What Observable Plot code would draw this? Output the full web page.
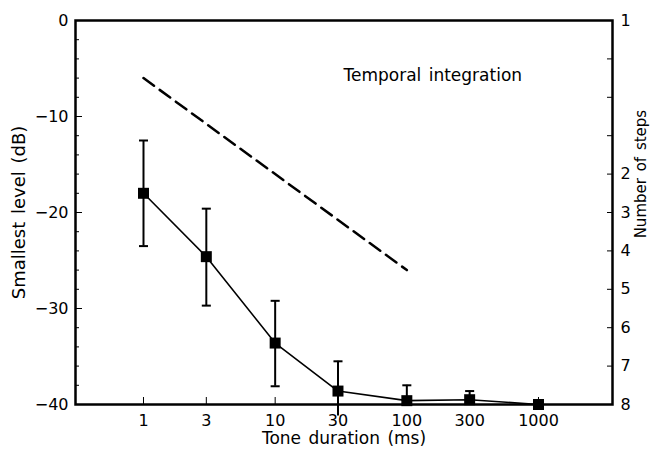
<!DOCTYPE html>
<html><head><meta charset="utf-8">
<script src="https://cdn.jsdelivr.net/npm/d3@7"></script>
<script src="https://cdn.jsdelivr.net/npm/@observablehq/plot@0.6"></script>
<style>body{margin:0;background:#fff} #chart svg{background:#fff} #chart svg text{word-spacing:2px}</style>
</head><body><div id="chart"></div>
<script>
// Data
const durations = [1, 3, 10, 30, 100, 300, 1000];
const levels    = [-18, -24.6, -33.6, -38.6, -39.6, -39.5, -40];
const errHigh   = [-12.5, -19.6, -29.2, -35.5, -38.0, -38.6, null];
const errLow    = [-23.5, -29.7, -38.1, -41.2, -40, -40, null];

const integrationX = [1, 100];
const integrationY = [-6, -26];
const integrationLabel = "Temporal integration";
const labelX = 33, labelY = -5.7;

const xTicks = [1, 3, 10, 30, 100, 300, 1000];
const xTickLabels = ["1", "3", "10", "30", "100", "300", "1000"];
const yMajorTicks = [0, -10, -20, -30, -40];
const yMinorTicks = [-2, -4, -6, -8, -12, -14, -16, -18, -22, -24, -26, -28, -32, -34, -36, -38];
const stepTicks  = [0, -4, -8, -12, -16, -20, -24, -28, -32, -36, -40];
const stepLabels = ["1", "", "", "", "2", "3", "4", "5", "6", "7", "8"];
const rightTitle = "Number of steps", rightTitleY = -16;

const data = durations.map((d, i) => ({x: d, y: levels[i], hi: errHigh[i], lo: errLow[i]}));
const integration = integrationX.map((d, i) => ({x: d, y: integrationY[i]}));

const cap = {draw(ctx, size) { const w = Math.sqrt(size); ctx.moveTo(-w, 0); ctx.lineTo(w, 0); }};
const fmt = d => d < 0 ? "\u2212" + (-d) : String(d);
const font = "'DejaVu Sans', sans-serif";

const chart = Plot.plot({
  width: 658, height: 449,
  marginLeft: 75, marginRight: 46, marginTop: 20, marginBottom: 45,
  x: {type: "log", domain: [0.3045, 3648]},
  y: {domain: [-40, 0]},
  style: {fontSize: "16px", fontFamily: font, color: "black", background: "white"},
  marks: [
    Plot.frame({strokeWidth: 2.5}),
    Plot.axisX({ticks: xTicks, tickSize: -7, tickFormat: () => "", label: null}),
    Plot.text(xTicks, {x: d => d, text: (d, i) => xTickLabels[i], frameAnchor: "bottom", lineAnchor: "middle", dy: 16, fontSize: 16}),
    Plot.text(["Tone duration (ms)"], {frameAnchor: "bottom", lineAnchor: "middle", dy: 34, fontSize: 17}),
    Plot.axisY({ticks: yMinorTicks, tickSize: -4, tickFormat: () => "", label: null}),
    Plot.axisY({ticks: yMajorTicks, tickSize: -7, tickPadding: 14, tickFormat: fmt, label: null}),
    Plot.text(["Smallest level (dB)"], {frameAnchor: "left", dx: -56, rotate: -90, textAnchor: "middle", fontSize: 18}),
    Plot.axisY({anchor: "right", ticks: stepTicks, tickSize: -6, tickPadding: 14,
      tickFormat: d => stepLabels[stepTicks.indexOf(d)], label: null}),
    Plot.text([rightTitle], {y: () => rightTitleY, frameAnchor: "right", dx: 29, rotate: -90, textAnchor: "middle", fontSize: 15}),
    Plot.line(integration, {x: "x", y: "y", strokeWidth: 2.5, strokeDasharray: "13,7"}),
    Plot.text([integrationLabel], {x: () => labelX, y: () => labelY, textAnchor: "start", fontSize: 17}),
    Plot.ruleX(data.filter(d => d.hi != null), {x: "x", y1: "lo", y2: "hi", strokeWidth: 2}),
    Plot.dot(data.filter(d => d.hi != null), {x: "x", y: "hi", symbol: cap, r: 2.55, stroke: "black", strokeWidth: 2}),
    Plot.dot(data.filter(d => d.lo != null && d.lo > -40), {x: "x", y: "lo", symbol: cap, r: 2.55, stroke: "black", strokeWidth: 2}),
    Plot.line(data, {x: "x", y: "y", strokeWidth: 1.6}),
    Plot.dot(data, {x: "x", y: "y", symbol: "square", r: 6.2, fill: "black"})
  ]
});
document.getElementById("chart").appendChild(chart);
</script>
</body></html>
